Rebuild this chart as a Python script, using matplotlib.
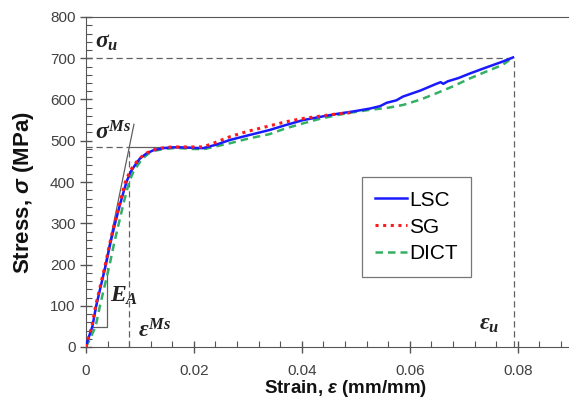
import matplotlib
matplotlib.use('Agg')
import matplotlib.pyplot as plt
from matplotlib.ticker import MultipleLocator

plt.rcParams['font.family'] = ['Liberation Sans', 'DejaVu Sans']
plt.rcParams['mathtext.fontset'] = 'custom'
plt.rcParams['mathtext.it'] = 'Liberation Serif:italic:bold'
plt.rcParams['mathtext.bf'] = 'Liberation Serif:italic:bold'
plt.rcParams['mathtext.rm'] = 'Liberation Serif:bold'
plt.rcParams['mathtext.sf'] = 'Liberation Sans:italic:bold'

# stress-strain curves, strain in mm/mm, stress in MPa
lsc_strain = [0, 0.0003, 0.0012, 0.0019, 0.0028, 0.0037, 0.0045, 0.0054, 0.0064, 0.0075,
              0.0083, 0.0091, 0.0100, 0.0112, 0.0125, 0.0143, 0.0160, 0.0174, 0.0195, 0.0217,
              0.0240, 0.0267, 0.0300, 0.0340, 0.0370, 0.0402, 0.0430, 0.0464, 0.0495, 0.0526,
              0.0545, 0.0557, 0.0575, 0.0587, 0.0620, 0.0649, 0.0657, 0.0662, 0.0670, 0.0690,
              0.0711, 0.0740, 0.0772, 0.0791]
lsc_stress = [0, 15, 50, 100, 150, 200, 250, 300, 350, 400,
              425, 441, 457, 469, 477, 482, 484, 484, 483, 482,
              490, 502, 513, 526, 538, 550, 557, 565, 571, 578,
              584, 592, 598, 607, 622, 638, 642, 638, 644, 652,
              663, 677, 692, 702]

sg_strain = [0, 0.0003, 0.0011, 0.0018, 0.0027, 0.0036, 0.0044, 0.0053, 0.0063, 0.0073,
             0.0082, 0.0090, 0.0100, 0.0112, 0.0125, 0.0143, 0.0160, 0.0174, 0.0195, 0.0217,
             0.0240, 0.0267, 0.0300, 0.0340, 0.0370, 0.0402, 0.0430, 0.0464, 0.0490]
sg_stress = [0, 15, 50, 100, 150, 200, 250, 300, 350, 400,
             427, 443, 458, 470, 478, 483, 485, 485, 485, 485,
             496, 510, 523, 536, 546, 554, 559, 565, 568]

dict_strain = [0, 0.0006, 0.0018, 0.0026, 0.0035, 0.0044, 0.0052, 0.0061, 0.0070, 0.0080,
               0.0088, 0.0096, 0.0105, 0.0116, 0.0128, 0.0145, 0.0162, 0.0176, 0.0197, 0.0220,
               0.0243, 0.0267, 0.0300, 0.0340, 0.0370, 0.0402, 0.0430, 0.0464, 0.0495, 0.0526,
               0.0560, 0.0588, 0.0620, 0.0649, 0.0680, 0.0711, 0.0740, 0.0772, 0.0791]
dict_stress = [0, 15, 50, 100, 150, 200, 250, 300, 350, 400,
               425, 441, 457, 469, 476, 480, 482, 482, 480, 480,
               487, 494, 505, 516, 530, 542, 552, 562, 569, 575,
               580, 587, 600, 615, 632, 651, 667, 684, 702]

# characteristic points
sigma_u, eps_u = 700, 0.0792
sigma_ms, eps_ms = 485, 0.0079
tangent_x = [0.0016, 0.0089]
tangent_y = [75, 540]
tri_x = [0.0009, 0.0039, 0.0039]
tri_y = [49, 49, 191]

fig = plt.figure(figsize=(5.69, 4.0), dpi=100)
ax = fig.add_axes([0.151, 0.1325, 0.854, 0.825])

ref = dict(color='#606060', lw=0.9, ls=(0, (5, 3)))
ax.plot([0, eps_u], [sigma_u, sigma_u], **ref)
ax.plot([eps_u, eps_u], [0, sigma_u], **ref)
ax.plot([0, eps_ms], [sigma_ms, sigma_ms], **ref)
ax.plot([eps_ms, eps_ms], [0, sigma_ms], **ref)
ax.plot([eps_ms, 0.02], [sigma_ms, sigma_ms], color='#606060', lw=0.9)
ax.plot(tangent_x, tangent_y, color='#606060', lw=0.9)
ax.plot(tri_x, tri_y, color='#606060', lw=0.9)

ax.plot(lsc_strain, lsc_stress, color='#1a1aff', lw=1.8, label='LSC', zorder=4)
ax.plot(sg_strain, sg_stress, color='#ff1a1a', lw=2.2, ls=(0, (1, 1.5)), label='SG', zorder=5)
ax.plot(dict_strain, dict_stress, color='#33b064', lw=1.8, ls=(0, (3, 2)), label='DICT', zorder=3)

ax.set_xlim(0, 0.09)
ax.set_ylim(0, 800)
ax.xaxis.set_major_locator(MultipleLocator(0.02))
ax.xaxis.set_minor_locator(MultipleLocator(0.004))
ax.yaxis.set_major_locator(MultipleLocator(100))
ax.yaxis.set_minor_locator(MultipleLocator(20))
ax.set_xticks([0, 0.02, 0.04, 0.06, 0.08])
ax.set_xticklabels(['0', '0.02', '0.04', '0.06', '0.08'])
ax.tick_params(which='major', direction='inout', length=8, width=1, colors='#555555',
               labelcolor='#404040', labelsize=11)
ax.tick_params(axis='x', which='major', pad=8)
ax.tick_params(which='minor', direction='in', length=4, width=0.8, colors='#555555')
for s in ax.spines.values():
    s.set_color('#555555')

ax.set_xlabel(r'Strain, $\mathsf{\varepsilon}$ (mm/mm)', fontsize=13.5, fontweight='bold',
              color='#111111')
ax.set_ylabel(r'Stress, $\mathsf{\sigma}$ (MPa)', fontsize=16, fontweight='bold',
              color='#111111')
ax.xaxis.set_label_coords(0.535, -0.094)
ax.yaxis.set_label_coords(-0.102, 0.468)

txt = dict(fontsize=17, color='#222222')
ax.text(0.0017, 725, r'$\sigma_u$', **txt)
ax.text(0.0017, 502, r'$\sigma^{Ms}$', **txt)
ax.text(0.0044, 109, r'$E_A$', **txt)
ax.text(0.0096, 24, r'$\varepsilon^{Ms}$', **txt)
ax.text(0.0728, 41, r'$\varepsilon_u$', **txt)

leg = ax.legend(loc='upper left', bbox_to_anchor=(0.568, 0.515), borderaxespad=0,
                fontsize=15, handlelength=1.5, handletextpad=0.1, borderpad=0.65,
                labelspacing=0.38, fancybox=False, framealpha=1, edgecolor='#777777')
leg.get_frame().set_linewidth(0.9)

fig.savefig('out.png', dpi=100)
